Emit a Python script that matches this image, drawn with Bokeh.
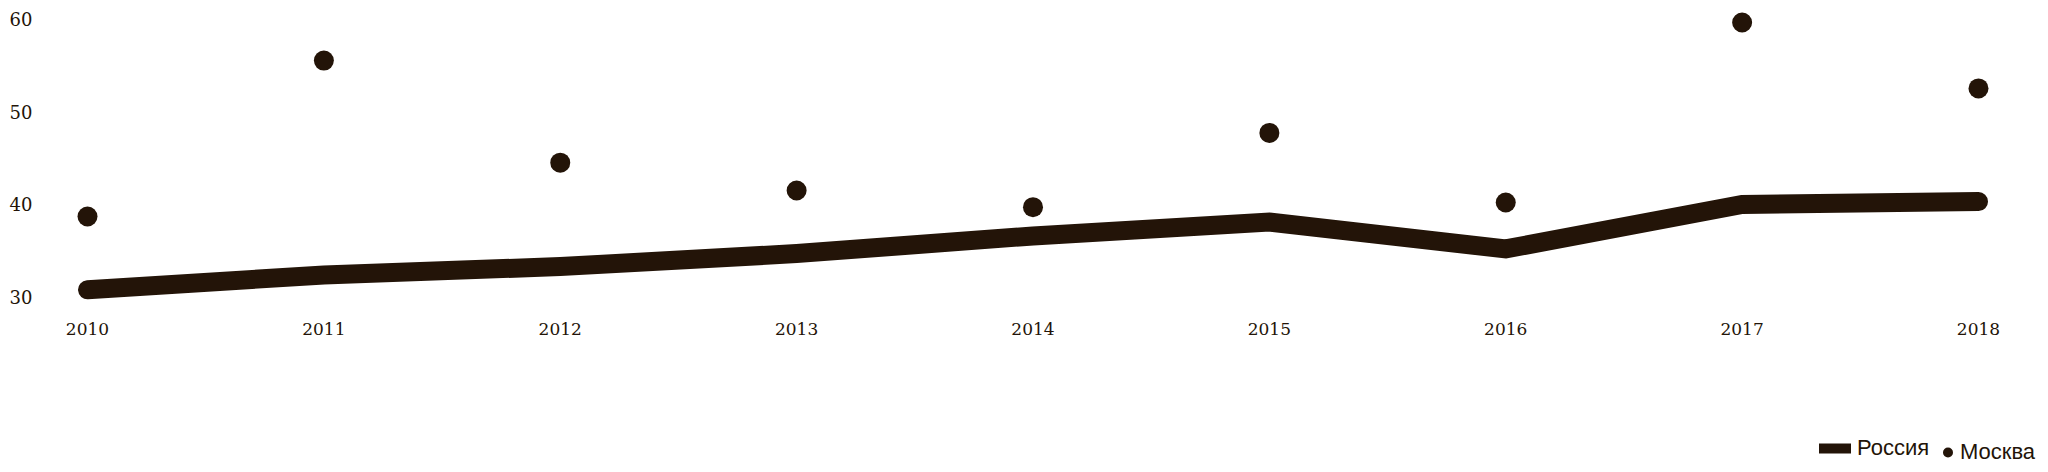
from bokeh.plotting import figure
from bokeh.models import Legend, LegendItem, FixedTicker
from bokeh.embed import file_html
from bokeh.resources import INLINE

# ---- data ----
years = [2010, 2011, 2012, 2013, 2014, 2015, 2016, 2017, 2018]
year_labels = ["2010", "2011", "2012", "2013", "2014", "2015", "2016", "2017", "2018"]
russia = [30.8, 32.4, 33.3, 34.7, 36.6, 38.1, 35.2, 40.0, 40.3]
moscow = [38.7, 55.5, 44.5, 41.5, 39.7, 47.7, 40.2, 59.6, 52.5]
y_ticks = [30, 40, 50, 60]
series_names = ["Россия", "Москва"]

COLOR = "#231408"
NAN = float("nan")

p = figure(width=2044, height=470, output_backend="svg", toolbar_location=None,
           x_range=(2009.8223, 2018.2454), y_range=(11.325, 61.11),
           min_border_left=45, min_border_right=8, min_border_top=8,
           min_border_bottom=0,
           background_fill_color="white", border_fill_color="white",
           outline_line_color=None)
p.grid.visible = False

for ax in (p.xaxis, p.yaxis):
    ax.axis_line_color = None
    ax.major_tick_line_color = None
    ax.minor_tick_line_color = None
    ax.major_tick_out = 0
    ax.major_tick_in = 0
    ax.major_label_text_font = "DejaVu Serif"
    ax.major_label_text_color = COLOR

p.xaxis.ticker = FixedTicker(ticks=years)
p.xaxis.major_label_overrides = {y: s for y, s in zip(years, year_labels)}
p.xaxis.major_label_text_font_size = "17px"
p.xaxis.major_label_standoff = 13
p.xaxis.fixed_location = 28.567

p.yaxis.ticker = FixedTicker(ticks=y_ticks)
p.yaxis.major_label_text_font_size = "18px"
p.yaxis.major_label_standoff = 13

p.line(years, russia, line_width=19, line_color=COLOR,
       line_cap="round", line_join="miter")
p.scatter(years, moscow, size=20, fill_color=COLOR, line_color=None)

# legend proxies (smaller symbols, as in the reference legend); NaN -> not drawn
proxy_line = p.line(x=[NAN, NAN], y=[NAN, NAN], line_width=10,
                    line_color=COLOR, line_cap="round")
proxy_dot = p.scatter(x=[NAN], y=[NAN], size=10, fill_color=COLOR, line_color=None)

common = dict(orientation="horizontal", padding=0, margin=0, spacing=0,
              border_line_color=None, background_fill_alpha=0,
              label_text_font="Liberation Sans", label_text_font_size="22px",
              label_text_color=COLOR, glyph_height=26, label_height=26)

leg1 = Legend(items=[LegendItem(label=series_names[0], renderers=[proxy_line])],
              location=(1774, 9), glyph_width=32, label_standoff=6, **common)
leg2 = Legend(items=[LegendItem(label=series_names[1], renderers=[proxy_dot])],
              location=(1890, 5), glyph_width=25, label_standoff=0, **common)
p.add_layout(leg1)
p.add_layout(leg2)

open("out.html", "w").write(file_html(p, INLINE))
